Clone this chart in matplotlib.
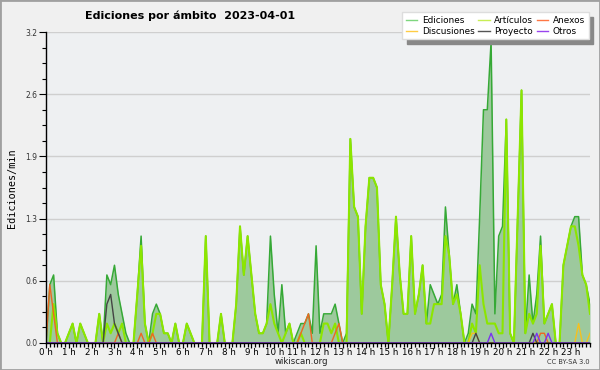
import matplotlib
matplotlib.use('Agg')
import matplotlib.pyplot as plt
from matplotlib.lines import Line2D
from matplotlib.patches import Rectangle
from matplotlib.ticker import MultipleLocator
import numpy as np

# 10-minute slots, 0..143 (00:00 .. 23:50)
ediciones = [
    0.0, 0.6, 0.7, 0.1, 0.0, 0.0, 0.1, 0.2, 0.0, 0.2, 0.1, 0.0,   # 0h
    0.0, 0.0, 0.3, 0.0, 0.7, 0.6, 0.8, 0.5, 0.3, 0.1, 0.0, 0.0,   # 2h
    0.5, 1.1, 0.2, 0.0, 0.3, 0.4, 0.3, 0.1, 0.1, 0.0, 0.2, 0.0,   # 4h
    0.0, 0.2, 0.1, 0.0, 0.0, 0.0, 1.1, 0.0, 0.0, 0.0, 0.3, 0.0,   # 6h
    0.0, 0.0, 0.4, 1.2, 0.7, 1.1, 0.7, 0.3, 0.1, 0.1, 0.2, 1.1,   # 8h
    0.5, 0.1, 0.6, 0.1, 0.2, 0.0, 0.1, 0.2, 0.2, 0.3, 0.1, 1.0,   # 10h
    0.1, 0.3, 0.3, 0.3, 0.4, 0.2, 0.0, 0.1, 2.1, 1.4, 1.3, 0.3,   # 12h
    1.2, 1.7, 1.7, 1.6, 0.6, 0.4, 0.0, 0.6, 1.3, 0.7, 0.3, 0.3,   # 14h
    1.1, 0.3, 0.5, 0.8, 0.2, 0.6, 0.5, 0.4, 0.5, 1.4, 0.9, 0.4,   # 16h
    0.6, 0.3, 0.0, 0.1, 0.4, 0.3, 1.3, 2.4, 2.4, 3.1, 0.3, 1.1,   # 18h
    1.2, 2.3, 0.1, 0.0, 1.3, 2.6, 0.1, 0.7, 0.2, 0.5, 1.1, 0.2,   # 20h
    0.3, 0.4, 0.0, 0.0, 0.8, 1.0, 1.2, 1.3, 1.3, 0.7, 0.6, 0.4,   # 22h
]
articulos = [
    0.0, 0.0, 0.4, 0.1, 0.0, 0.0, 0.1, 0.2, 0.0, 0.2, 0.1, 0.0,
    0.0, 0.0, 0.3, 0.0, 0.2, 0.1, 0.2, 0.1, 0.2, 0.0, 0.0, 0.0,
    0.5, 1.0, 0.2, 0.0, 0.1, 0.3, 0.3, 0.1, 0.1, 0.0, 0.2, 0.0,
    0.0, 0.2, 0.1, 0.0, 0.0, 0.0, 1.1, 0.0, 0.0, 0.0, 0.3, 0.0,
    0.0, 0.0, 0.4, 1.2, 0.7, 1.1, 0.7, 0.3, 0.1, 0.1, 0.2, 0.4,
    0.2, 0.1, 0.0, 0.1, 0.2, 0.0, 0.0, 0.1, 0.0, 0.0, 0.0, 0.0,
    0.0, 0.2, 0.2, 0.1, 0.2, 0.0, 0.0, 0.0, 2.1, 1.4, 1.3, 0.3,
    1.2, 1.7, 1.7, 1.6, 0.6, 0.4, 0.0, 0.6, 1.3, 0.7, 0.3, 0.3,
    1.1, 0.3, 0.5, 0.8, 0.2, 0.2, 0.4, 0.4, 0.4, 1.1, 0.9, 0.4,
    0.5, 0.3, 0.0, 0.0, 0.2, 0.1, 0.8, 0.4, 0.2, 0.2, 0.2, 0.1,
    0.1, 2.3, 0.1, 0.0, 1.3, 2.6, 0.1, 0.3, 0.2, 0.3, 1.0, 0.2,
    0.3, 0.4, 0.0, 0.0, 0.8, 1.0, 1.2, 1.2, 1.0, 0.7, 0.6, 0.3,
]
# sparse series: (slot, value)
anexos_slots = [1, 2, 19, 25, 28, 67, 68, 69, 76, 77, 130, 131]
anexos_vals = [0.6, 0.3, 0.1, 0.1, 0.1, 0.1, 0.2, 0.3, 0.1, 0.2, 0.1, 0.1]
discusiones_slots = [112, 113, 140, 143]
discusiones_vals = [0.1, 0.1, 0.2, 0.1]
proyecto_slots = [16, 17, 18, 19, 113, 128]
proyecto_vals = [0.4, 0.5, 0.2, 0.1, 0.1, 0.1]
otros_slots = [117, 129, 132]
otros_vals = [0.1, 0.1, 0.1]

hour_labels = ['%d h' % h for h in range(24)]
ytick_values = [0.0, 0.64, 1.28, 1.92, 2.56, 3.2]
ytick_labels = ['0.0', '0.6', '1.3', '1.9', '2.6', '3.2']
legend_labels = ['Ediciones', 'Discusiones', 'Artículos', 'Proyecto', 'Anexos', 'Otros']

N = len(ediciones)
x = np.arange(N)

def dense(slots, vals):
    a = np.zeros(N)
    a[slots] = vals
    return a

fig = plt.figure(figsize=(6, 3.7), dpi=100, facecolor='#f0f0f0')
ax = fig.add_axes([46/600, 27/370, 544/600, 311/370])
ax.set_facecolor('#eef0f2')
ax.set_axisbelow(True)
ax.grid(axis='y', color='#cfcfcf', lw=1.0)

ax.fill_between(x, ediciones, color='#9dc99d', lw=0, zorder=2)
ax.plot(x, ediciones, color='#36a936', lw=1.1, zorder=3)
ax.plot(x, articulos, color='#8ce600', lw=1.5, zorder=4)
ax.plot(x, dense(anexos_slots, anexos_vals), color='#ee6622', lw=1.0, zorder=5)
ax.plot(x, dense(discusiones_slots, discusiones_vals), color='#f5c01f', lw=1.0, zorder=5)
ax.plot(x, dense(proyecto_slots, proyecto_vals), color='#444444', lw=1.0, zorder=6)
ax.plot(x, dense(otros_slots, otros_vals), color='#7a33ee', lw=1.0, zorder=6)

ax.set_xlim(0, N - 1)
ax.set_ylim(0, 3.2)
for s in ['top', 'right']:
    ax.spines[s].set_visible(False)
for s in ['left', 'bottom']:
    ax.spines[s].set_color('black')
    ax.spines[s].set_linewidth(1.0)
    ax.spines[s].set_zorder(10)

ax.set_xticks(np.arange(0, 144, 6))
ax.set_xticklabels(hour_labels)
ax.xaxis.set_minor_locator(MultipleLocator(1))
ax.tick_params(axis='x', which='major', length=3.5, width=0.9, labelsize=6.3, pad=0.3, direction='out')
ax.tick_params(axis='x', which='minor', length=3, width=0.9, direction='out')

ax.set_yticks(ytick_values)
ax.set_yticklabels(ytick_labels)
ax.yaxis.set_minor_locator(MultipleLocator(0.16))
ax.tick_params(axis='y', which='major', length=5, width=0.8, labelsize=5.5, pad=1, labelcolor='#333333')
ax.tick_params(axis='y', which='minor', length=3, width=0.8)

fig.text(85/600, 1 - 16/370, 'Ediciones por ámbito  2023-04-01', fontsize=8,
         fontweight='bold', va='center', ha='left')
fig.text(12/600, 1 - 188/370, 'Ediciones/min', rotation=90, family='DejaVu Sans Mono',
         fontsize=7.3, va='center', ha='center')
fig.text(301/600, 1 - 362/370, 'wikiscan.org', fontsize=6.2, ha='center', va='center', color='#222222')
fig.text(590/600, 1 - 362/370, 'CC BY-SA 3.0', fontsize=4.8, ha='right', va='center', color='#333333')

handle_colors = ['#7ed67e', '#ffcc44', '#c8ee55', '#555555', '#ff7744', '#9944ee']
handles = [Line2D([0], [0], color=c, lw=1.0) for c in handle_colors]
leg = fig.legend(handles, legend_labels, ncol=3, loc='upper right',
                 bbox_to_anchor=(593/600, 1 - 8/370), fontsize=6.4, frameon=True,
                 fancybox=False, shadow={'color': '#888888', 'alpha': 1.0, 'ox': 3, 'oy': -3},
                 handlelength=1.3, handletextpad=0.5, columnspacing=0.4, borderpad=0.4,
                 labelspacing=0.2, edgecolor='#dddddd', framealpha=1.0)

fig.patches.append(Rectangle((0, 0), 1, 1, transform=fig.transFigure, fill=False,
                             ec='#a0a0a0', lw=2.0))

fig.savefig('out.png', dpi=100, facecolor=fig.get_facecolor())
